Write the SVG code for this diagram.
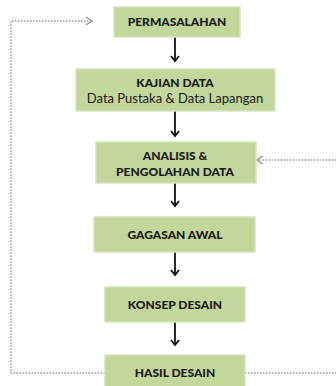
<svg xmlns="http://www.w3.org/2000/svg" width="336" height="386" viewBox="0 0 336 386">
<defs>
<style>
.box{fill:#c3d69b;stroke:#d8e4bf;stroke-width:1.5}
.t{font-family:Lato,"Open Sans",sans-serif;font-weight:900;font-size:12px;fill:#1a1a1a;text-anchor:middle}
.s{font-family:Lato,"Open Sans",sans-serif;font-size:13px;fill:#1a1a1a;text-anchor:middle}
.arr{stroke:#111;stroke-width:1.8;fill:none}
.dot{stroke:#999;stroke-width:1.5;stroke-dasharray:1.5 1.5;fill:none}
.dh{stroke:#999;stroke-width:1.5;fill:none}
</style>
<marker id="ah" markerWidth="10" markerHeight="10" refX="8" refY="5" orient="auto" markerUnits="userSpaceOnUse" viewBox="0 0 10 10">
<path d="M3,1 L8,5 L3,9" stroke="#111" stroke-width="1.8" fill="none"/>
</marker>
</defs>
<rect width="336" height="386" fill="#fff"/>
<g id="connectors">
<line class="arr" x1="175" y1="37" x2="175" y2="61" marker-end="url(#ah)"/>
<line class="arr" x1="175" y1="111" x2="175" y2="136" marker-end="url(#ah)"/>
<line class="arr" x1="175" y1="183" x2="175" y2="206" marker-end="url(#ah)"/>
<line class="arr" x1="175" y1="252" x2="175" y2="275" marker-end="url(#ah)"/>
<line class="arr" x1="175" y1="322" x2="175" y2="345" marker-end="url(#ah)"/>
<path class="dot" d="M105,373 H11 V21 H91"/>
<path class="dh" d="M86,17 L92,21 L86,25"/>
<path class="dot" d="M245,373 H336"/>
<path class="dot" d="M336,160 H258"/>
<path class="dh" d="M263,156 L257,160 L263,164"/>
</g>
<g id="permasalahan">
<rect class="box" x="114" y="7" width="126" height="30"/>
<text class="t" x="177" y="26">PERMASALAHAN</text>
</g>
<g id="kajian-data">
<rect class="box" x="76" y="69" width="199" height="42"/>
<text class="t" x="175" y="87">KAJIAN DATA</text>
<text class="s" x="175" y="103">Data Pustaka &amp; Data Lapangan</text>
</g>
<g id="analisis">
<rect class="box" x="96" y="142" width="160" height="41"/>
<text class="t" x="175" y="160">ANALISIS &amp;</text>
<text class="t" x="175" y="176">PENGOLAHAN DATA</text>
</g>
<g id="gagasan-awal">
<rect class="box" x="94" y="217" width="161" height="35"/>
<text class="t" x="175" y="239">GAGASAN AWAL</text>
</g>
<g id="konsep-desain">
<rect class="box" x="105" y="287" width="140" height="35"/>
<text class="t" x="175" y="309">KONSEP DESAIN</text>
</g>
<g id="hasil-desain">
<rect class="box" x="105" y="355" width="140" height="40"/>
<text class="t" x="175" y="377">HASIL DESAIN</text>
</g>
</svg>
